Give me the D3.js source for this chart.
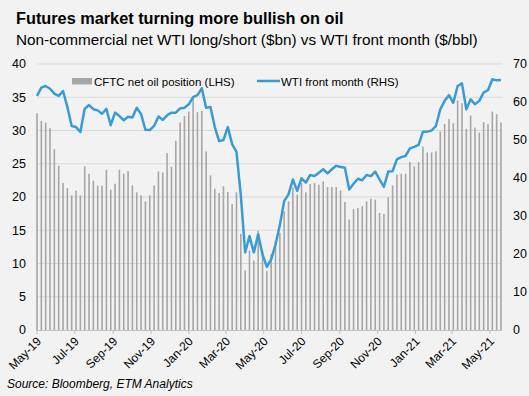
<!DOCTYPE html>
<html>
<head>
<meta charset="utf-8">
<script src="https://cdn.jsdelivr.net/npm/d3@7"></script>
<style>
  body { margin: 0; background: #f2f2f2; }
  svg { display: block; font-family: "Liberation Sans", Arial, sans-serif; }
</style>
</head>
<body>
<svg></svg>
<script>
//DATA
var startDate = new Date(2019, 4, 7); // first weekly CFTC reading (Tuesday)

// CFTC net oil position, $bn (LHS), weekly
var cftcValues = [32.6, 31.45, 31.2, 30.35, 27.2, 24.7, 22.1, 21.35, 20.25, 20.95,
    20.25, 24.6, 23.5, 22.45, 21.7, 21.7, 24.1, 21.1, 22.0, 24.1,
    23.5, 23.9, 21.75, 20.7, 20.25, 19.35, 20.25, 21.75, 23.85, 23.7,
    26.6, 24.55, 28.45, 31.2, 32.2, 32.85, 34.85, 32.75, 32.95, 26.85,
    23.25, 21.25, 20.6, 21.6, 20.75, 18.95, 20.7, 14.45, 8.95, 11.95,
    10.45, 14.9, 11.85, 8.85, 11.35, 13.35, 14.6, 17.85, 19.35, 21.45,
    20.35, 22.1, 20.7, 21.95, 22.1, 21.85, 22.35, 21.5, 21.5, 21.5,
    21.0, 19.25, 16.6, 18.2, 18.35, 18.6, 19.35, 19.75, 19.6, 17.6,
    17.45, 19.95, 21.75, 23.35, 23.5, 23.5, 25.25, 24.6, 25.25, 27.6,
    26.7, 26.7, 26.85, 29.85, 31.0, 31.7, 31.1, 34.5, 34.1, 30.25,
    32.25, 30.45, 29.7, 31.25, 30.95, 32.85, 32.45, 31.2];

// WTI front month, $/bbl (RHS), weekly
var wtiValues = [61.6, 63.8, 64.2, 63.5, 62.2, 61.6, 62.9, 58.7, 53.7, 53.4,
    52.1, 58.2, 59.2, 58.1, 57.8, 56.9, 58.2, 53.9, 57.2, 56.3,
    55.2, 56.1, 55.9, 58.5, 56.8, 52.7, 52.6, 53.7, 56.2, 55.3,
    56.5, 57.2, 57.2, 58.3, 58.5, 59.4, 61.3, 61.8, 63.6, 58.5,
    58.7, 53.4, 49.7, 50.0, 53.4, 48.9, 46.9, 35.5, 20.4, 24.7,
    20.4, 25.2, 19.9, 16.6, 18.6, 22.5, 27.6, 33.9, 35.7, 39.6,
    36.6, 39.9, 38.8, 40.8, 40.5, 41.4, 42.3, 41.2, 42.3, 43.2,
    42.9, 42.7, 37.0, 38.5, 39.8, 39.4, 40.8, 40.5, 41.7, 39.6,
    37.7, 41.7, 41.8, 44.9, 45.5, 45.8, 47.8, 48.2, 48.7, 52.2,
    52.2, 52.5, 53.7, 58.1, 60.3, 61.8, 59.8, 64.2, 64.9, 58.1,
    60.7, 59.4, 60.3, 62.5, 63.1, 66.0, 65.7, 65.8];

var xTickLabels = ['May-19', 'Jul-19', 'Sep-19', 'Nov-19', 'Jan-20', 'Mar-20', 'May-20',
    'Jul-20', 'Sep-20', 'Nov-20', 'Jan-21', 'Mar-21', 'May-21'];
var leftTicks = [0, 5, 10, 15, 20, 25, 30, 35, 40];
var rightTicks = [0, 10, 20, 30, 40, 50, 60, 70];

var dates = cftcValues.map(function(d, i) {
    return d3.timeWeek.offset(startDate, i);
});
var tickDates = xTickLabels.map(function(d, i) {
    return d3.timeMonth.offset(startDate, 2 * i);
});

//SVG SETUP
var w = 529,
    h = 396;

var plot = {left: 37, right: 501, top: 64, bottom: 330};

var svg = d3.select('svg')
    .attr('width', w)
    .attr('height', h);

svg.append('rect')
    .attr('width', w)
    .attr('height', h)
    .attr('fill', '#f2f2f2');

//SCALES
var x = d3.scaleTime()
    .domain([dates[0], dates[dates.length - 1]])
    .range([plot.left, plot.right]);

var yLeft = d3.scaleLinear()
    .domain([0, 40])
    .range([plot.bottom, plot.top]);

var yRight = d3.scaleLinear()
    .domain([0, 70])
    .range([plot.bottom, plot.top]);

//TITLES
svg.append('text')
    .text('Futures market turning more bullish on oil')
    .attr('x', 16)
    .attr('y', 24)
    .attr('font-size', 16.3)
    .attr('font-weight', 'bold')
    .attr('fill', '#000');

svg.append('text')
    .text('Non-commercial net WTI long/short ($bn) vs WTI front month ($/bbl)')
    .attr('x', 16)
    .attr('y', 45)
    .attr('font-size', 15.3)
    .attr('fill', '#000');

//GRIDLINES
svg.append('g')
    .selectAll('line')
    .data(leftTicks.slice(1))
    .enter()
    .append('line')
    .attr('x1', plot.left)
    .attr('x2', 502)
    .attr('y1', function(d) { return yLeft(d); })
    .attr('y2', function(d) { return yLeft(d); })
    .attr('stroke', '#d9d9d9')
    .attr('stroke-width', 1);

//BARS
svg.append('g')
    .selectAll('rect')
    .data(cftcValues)
    .enter()
    .append('rect')
    .attr('x', function(d, i) { return x(dates[i]) - 0.8; })
    .attr('y', function(d) { return yLeft(d); })
    .attr('width', 1.6)
    .attr('height', function(d) { return yLeft(0) - yLeft(d); })
    .attr('fill', '#a6a6a6');

//X AXIS
svg.append('line')
    .attr('x1', plot.left)
    .attr('x2', 502)
    .attr('y1', plot.bottom + 0.5)
    .attr('y2', plot.bottom + 0.5)
    .attr('stroke', '#bfbfbf');

var xTicks = svg.append('g')
    .selectAll('g')
    .data(tickDates)
    .enter()
    .append('g')
    .attr('transform', function(d) { return 'translate(' + x(d) + ',' + plot.bottom + ')'; });

xTicks.append('line')
    .attr('y1', 0)
    .attr('y2', 4)
    .attr('stroke', '#bfbfbf');

xTicks.append('text')
    .text(function(d, i) { return xTickLabels[i]; })
    .attr('text-anchor', 'end')
    .attr('font-size', 12)
    .attr('fill', '#000')
    .attr('transform', 'translate(5, 12) rotate(-45)');

//LINE
var wtiLine = d3.line()
    .x(function(d, i) { return x(dates[i]); })
    .y(function(d) { return yRight(d); });

svg.append('path')
    .datum(wtiValues)
    .attr('d', wtiLine)
    .attr('fill', 'none')
    .attr('stroke', '#3a9bd3')
    .attr('stroke-width', 2.5)
    .attr('stroke-linejoin', 'round');

//Y AXES LABELS
svg.append('g')
    .selectAll('text')
    .data(leftTicks)
    .enter()
    .append('text')
    .text(function(d) { return d; })
    .attr('x', 26)
    .attr('y', function(d) { return yLeft(d); })
    .attr('dy', '0.35em')
    .attr('text-anchor', 'end')
    .attr('font-size', 12.5)
    .attr('fill', '#000');

svg.append('g')
    .selectAll('text')
    .data(rightTicks)
    .enter()
    .append('text')
    .text(function(d) { return d; })
    .attr('x', 513)
    .attr('y', function(d) { return yRight(d); })
    .attr('dy', '0.35em')
    .attr('text-anchor', 'start')
    .attr('font-size', 12.5)
    .attr('fill', '#000');

//LEGEND
var legend = svg.append('g');

legend.append('rect')
    .attr('x', 72)
    .attr('y', 78)
    .attr('width', 20)
    .attr('height', 6.5)
    .attr('fill', '#a6a6a6');

legend.append('text')
    .text('CFTC net oil position (LHS)')
    .attr('x', 94)
    .attr('y', 85.5)
    .attr('font-size', 11.5)
    .attr('fill', '#000');

legend.append('line')
    .attr('x1', 257)
    .attr('x2', 280)
    .attr('y1', 81)
    .attr('y2', 81)
    .attr('stroke', '#3a9bd3')
    .attr('stroke-width', 2.5);

legend.append('text')
    .text('WTI front month (RHS)')
    .attr('x', 281)
    .attr('y', 85.5)
    .attr('font-size', 11.5)
    .attr('fill', '#000');

//SOURCE
svg.append('text')
    .text('Source: Bloomberg, ETM Analytics')
    .attr('x', 7)
    .attr('y', 388)
    .attr('font-size', 12)
    .attr('font-style', 'italic')
    .attr('fill', '#000');
</script>
</body>
</html>
